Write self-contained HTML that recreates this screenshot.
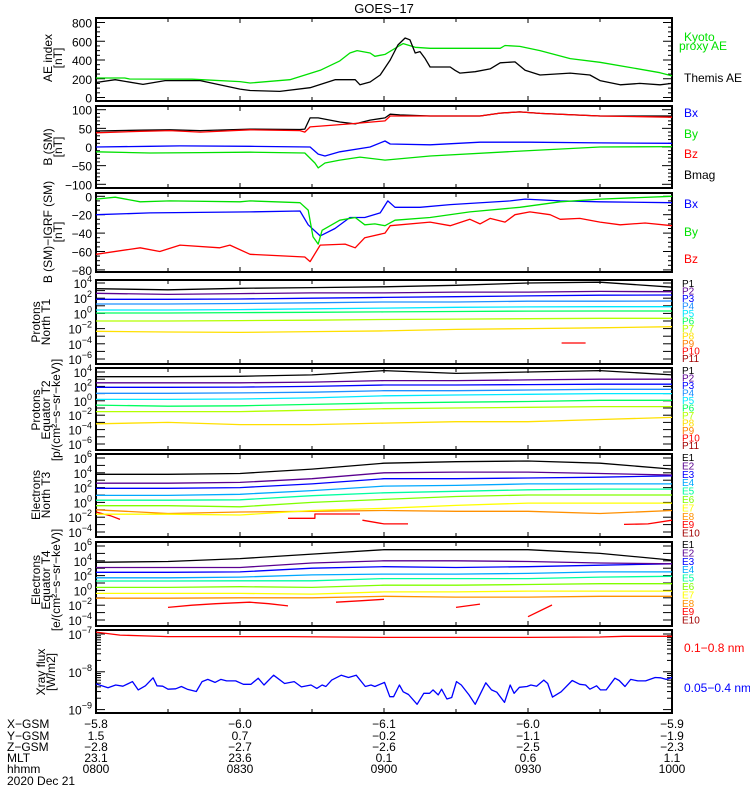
<!DOCTYPE html>
<html><head><meta charset="utf-8">
<style>
html,body{margin:0;padding:0;background:#fff;}
svg{display:block;font-family:"Liberation Sans",sans-serif;}
</style></head>
<body>
<svg id="chart" width="750" height="800" viewBox="0 0 750 800" xmlns="http://www.w3.org/2000/svg">
<text x="384" y="13" text-anchor="middle" font-size="13">GOES−17</text>
</svg>
<script>
// ---------- DATA (time in minutes since 08:00) ----------
const tickTimes = [0,30,60,90,120];
const xGsm = ["−5.8","−6.0","−6.1","−6.0","−5.9"];
const yGsm = ["1.5","0.7","−0.2","−1.1","−1.9"];
const zGsm = ["−2.8","−2.7","−2.6","−2.5","−2.3"];
const mlt = ["23.1","23.6","0.1","0.6","1.1"];
const hhmm = ["0800","0830","0900","0930","1000"];

const kyotoT = [0,6,7,20,30,32.1,40.4,46.7,50.8,52.9,54.4,57.1,58.1,60.2,63.3,64,66.5,69.6,84.2,85.2,88.3,92.5,98.8,105,111.3,117.5,120];
const kyotoV = [208,208,197,195,170,155,190,290,390,475,500,475,440,460,555,575,535,525,525,555,545,500,415,375,320,265,230];
const themisT = [0,4,9.8,14.4,21.7,30,32.1,38.3,44.6,49.8,54,55,57.1,59.2,61.3,62.9,64.4,65.4,66.5,67.5,68.5,69.6,73.8,74.8,75.8,79,82.1,84.2,87.3,89.4,92.5,98.8,102.9,105,109.2,113.3,117.5,120];
const themisV = [160,190,140,180,180,90,75,65,105,190,190,135,165,240,400,560,635,615,475,490,420,325,325,290,260,275,305,370,380,290,240,260,240,180,135,150,135,150];

const bmagT = [0,9.2,15.4,21.7,32.1,42.5,43.5,44.6,46.3,50.8,54,57.1,60.2,61.3,63.3,69.6,80,84.2,88.3,92.5,105,120];
const bmagV = [43,45,46,44,48,47,48,78,78,67,62,72,78,88,86,83,83,91,94,90,83,83];
const bzT = [0,9.2,15.4,21.7,32.1,42.5,43.5,44.6,46.7,52.9,60.2,61.3,69.6,80,84.2,88.3,92.5,105,120];
const bzV = [38,42,44,40,46,44,40,54,56,62,70,83,83,83,91,94,90,83,80];
const bxT = [0,11.25,17.5,32.1,44.6,46.3,47.7,50.8,57.1,60.2,61.3,69.6,80,90.4,105,120];
const bxV = [0,2,3,2,0,-19,-24,-13,0,16,8,6,13,13,11,10];
const byT = [0,11.25,21.7,32.1,43.5,45.6,46.3,47.7,50.8,55,60.2,69.6,88.3,105,120];
const byV = [-13,-16,-15,-14,-16,-43,-56,-43,-35,-27,-35,-24,-11,0,1];

const dByT = [0,4,9.2,15.4,30,32.1,42.5,44.2,45.2,46.3,47.1,50.8,54,56,58.1,60.2,62.3,69.6,77.9,88.3,96.7,105,120];
const dByV = [-3,-1,-6,-5,-6,-5,-7,-15,-44,-52,-37,-26,-23,-31,-30,-32,-26,-23,-17,-12,-6,-3,0];
const dBxT = [0,11.25,32.1,42.5,44.2,46.7,49.8,52.9,56,59.2,60.8,62.3,67.5,73.8,86.3,89.4,96.7,105,120];
const dBxV = [-20,-18,-17,-16,-31,-43,-35,-23,-23,-18,-5,-12,-12,-9,-5,-3,-5,-6,-7];
const dBzT = [0,9.2,13.3,17.5,25.8,27.9,32.1,43.5,44.6,46.7,51.9,54,56,60.2,61.3,69.6,73.8,77.9,80,82.1,85.2,87.3,90.4,94.6,96.7,100.8,105,109.2,114.4,120];
const dBzV = [-63,-56,-60,-53,-56,-53,-63,-66,-71,-53,-52,-56,-45,-40,-32,-28,-32,-25,-30,-24,-28,-20,-17,-20,-25,-24,-28,-31,-29,-32];

const chanT = [0,15,30,45,60,75,90,105,120];
// Protons North T1 (log10 flux)
const pnP1 = [3.25,3.1,3.3,3.4,3.5,3.7,4.0,4.1,3.45];
const pnP2 = [2.64,2.5,2.6,2.7,2.7,2.8,2.8,2.9,2.86];
const pnP3 = [1.86,1.86,1.9,2.0,2.1,2.2,2.3,2.4,2.42];
const pnP4 = [1.24,1.24,1.3,1.4,1.5,1.5,1.6,1.6,1.63];
const pnP5 = [0.45,0.45,0.5,0.6,0.7,0.8,0.85,0.88,0.88];
const pnP6 = [0.05,0.05,0.1,0.15,0.2,0.25,0.3,0.32,0.32];
const pnP7 = [-1.0,-1.0,-0.95,-0.9,-0.8,-0.75,-0.7,-0.65,-0.64];
const pnP8 = [-2.35,-2.45,-2.5,-2.4,-2.3,-2.1,-2.0,-1.9,-1.75];
const pnP10T = [97,102];
const pnP10V = [-3.9,-3.9];
// Protons Equator T2
const peP1 = [3.35,3.35,3.4,3.6,4.2,3.8,4.0,4.2,3.6];
const peP2 = [2.5,2.5,2.5,2.6,2.8,2.8,2.9,3.0,3.0];
const peP3 = [1.87,1.87,1.9,2.0,2.2,2.2,2.25,2.3,2.3];
const peP4 = [1.04,1.04,1.1,1.2,1.4,1.4,1.5,1.6,1.6];
const peP5 = [0.2,0.2,0.25,0.4,0.7,0.8,0.9,1.0,1.0];
const peP6 = [-0.6,-0.75,-0.7,-0.5,-0.3,-0.2,-0.1,0.07,0.07];
const peP7 = [-1.5,-1.5,-1.5,-1.3,-1.1,-1.0,-0.9,-0.8,-0.8];
const peP8 = [-3.2,-3.0,-3.3,-3.3,-3.1,-2.9,-2.9,-2.6,-2.3];
// Electrons North T3
const enE1 = [3.8,3.8,3.9,4.5,5.3,5.5,5.6,5.3,4.5];
const enE2 = [2.6,2.6,2.7,3.2,4.0,4.1,4.1,3.9,3.7];
const enE3 = [1.9,1.9,2.0,2.5,3.2,3.2,3.3,3.4,3.6];
const enE4 = [0.95,0.95,1.1,1.6,2.2,2.3,2.5,2.5,2.5];
const enE5 = [0.3,0.3,0.35,0.9,1.3,1.5,1.7,1.8,1.8];
const enE6 = [-0.45,-0.45,-0.6,0.0,0.4,0.8,1.0,1.0,1.0];
const enE7 = [-1.6,-1.6,-1.7,-1.1,-0.8,-0.4,-0.1,-0.1,-0.1];
const enE8 = [-1.0,-1.5,-1.3,-1.2,-1.1,-1.2,-1.2,-1.5,-1.1];
const enE9T = [0,3,5,NaN,40,45.6,45.6,55,NaN,55.5,60,65,NaN,110,115,120];
const enE9V = [-1.3,-1.8,-2.3,NaN,-2.15,-2.15,-1.57,-1.57,NaN,-2.4,-2.9,-2.9,NaN,-2.97,-2.9,-2.4];
// Electrons Equator T4
const eeE1 = [3.8,3.9,4.3,4.9,5.5,5.5,5.5,5.0,4.1];
const eeE2 = [3.1,3.1,3.1,3.7,4.0,4.0,3.9,3.7,3.6];
const eeE3 = [2.45,2.45,2.5,3.0,3.2,3.1,3.2,3.4,3.6];
const eeE4 = [1.7,1.7,1.8,2.1,2.2,2.2,2.3,2.5,2.5];
const eeE5 = [1.27,1.27,1.3,1.3,1.6,1.6,1.6,1.8,1.9];
const eeE6 = [0.4,0.4,0.5,0.4,0.7,0.7,0.8,0.9,0.9];
const eeE7 = [-0.4,-0.4,-0.4,-0.5,-0.2,-0.2,-0.1,-0.1,-0.1];
const eeE8 = [-1.06,-1.06,-1.0,-1.0,-0.8,-0.9,-0.9,-0.8,-0.8];
const eeE9T = [15,20,25,32,36,40,NaN,50,55,60,NaN,75,80,NaN,90,95];
const eeE9V = [-2.3,-2.0,-1.8,-1.6,-1.8,-2.1,NaN,-1.6,-1.4,-1.2,NaN,-2.3,-1.85,NaN,-3.55,-1.97];
// X-ray (log10 W/m2)
const xrLongT = [0,5,10,15,30,40,60,75,90,105,110,120];
const xrLongV = [-6.95,-7.03,-7.05,-7.07,-7.07,-7.07,-7.09,-7.09,-7.09,-7.08,-7.06,-7.06];
const xrShortT = [0,2.5,4.1,5.6,7.6,8.8,10.3,11.9,12.7,13.9,15,16.6,17.8,19,20.9,22.1,23.3,24.8,26,27.2,29.1,30.7,32.3,33.8,35,37,39.3,41.3,42.8,44.8,46,47.1,47.9,49.1,51.1,52.6,54.2,56.1,57.3,58.1,60.1,61.2,62,63.2,64,65.1,66.9,68.3,69.5,70.2,71.3,72,73.1,74.1,75.1,76.1,77.7,79,81.2,82.4,83.5,85.1,86.3,87.1,88.2,89.8,90.6,91.8,93.3,94.1,95.1,96.9,99.2,100.8,102,102.9,104.3,105.1,106.3,108.1,109,110.2,111.4,112.9,114.5,116.5,117.6,118.8,120];
const xrShortV = [-8.32,-8.42,-8.35,-8.38,-8.26,-8.48,-8.37,-8.16,-8.37,-8.38,-8.46,-8.45,-8.39,-8.46,-8.52,-8.26,-8.20,-8.28,-8.20,-8.24,-8.24,-8.33,-8.33,-8.17,-8.35,-8.09,-8.31,-8.26,-8.40,-8.35,-8.44,-8.35,-8.39,-8.22,-8.09,-8.15,-8.09,-8.39,-8.35,-8.39,-8.28,-8.66,-8.66,-8.35,-8.53,-8.60,-8.86,-8.57,-8.57,-8.48,-8.61,-8.46,-8.72,-8.68,-8.26,-8.35,-8.61,-8.86,-8.29,-8.48,-8.54,-8.81,-8.35,-8.57,-8.41,-8.39,-8.35,-8.38,-8.22,-8.31,-8.67,-8.53,-8.23,-8.33,-8.35,-8.46,-8.37,-8.48,-8.48,-8.17,-8.23,-8.39,-8.20,-8.24,-8.24,-8.15,-8.16,-8.20,-8.15];

// ---------- RENDERING ----------
const NS = "http://www.w3.org/2000/svg";
const svg = document.getElementById('chart');
const X0 = 96, X1 = 672;
function xs(t){ return X0 + (t/120)*(X1-X0); }
function mk(tag, attrs, parent){
  const e = document.createElementNS(NS, tag);
  for (const k in attrs) e.setAttribute(k, attrs[k]);
  (parent||svg).appendChild(e);
  return e;
}
const C = {p1:'#000',p2:'#5a0090',p3:'#0000ff',p4:'#1e90ff',p5:'#00e8ff',p6:'#00ff60',p7:'#b4ff00',p8:'#ffe000',p9:'#ff8000',p10:'#ff0000',p11:'#a00000'};
const EC = ['#000','#5a0090','#0000ff','#00a8ff','#00ffa0','#80ff00','#ffff00','#ff9000','#ff0000','#a00000'];

function panel(name, top, bottom, ymap){
  const g = mk('g', {});
  
  
  const r = mk('rect', {x:X0, y:top, width:X1-X0, height:bottom-top, fill:'none', stroke:'#000', 'stroke-width':2}, g);
  
  
  // x ticks
  for (let t=15; t<120; t+=15){
    const len = (t%30===0)?5:4;
    mk('line',{x1:xs(t),x2:xs(t),y1:top,y2:top+len,stroke:'#000','stroke-width':1},g);
    mk('line',{x1:xs(t),x2:xs(t),y1:bottom,y2:bottom-len,stroke:'#000','stroke-width':1},g);
  }
  return g;
}
function yTick(g, y, len){
  mk('line',{x1:X0,x2:X0+len,y1:y,y2:y,stroke:'#000','stroke-width':1},g);
  mk('line',{x1:X1,x2:X1-len,y1:y,y2:y,stroke:'#000','stroke-width':1},g);
}
function label(g, x, y, txt, color, size, anchor, nm){
  const e = mk('text',{x:x,y:y,fill:color||'#000','font-size':size||12,'text-anchor':anchor||'start'},g);
  e.textContent = txt;
  
  
  return e;
}
function logLabel(g, y, exp){
  const e = mk('text',{x:X0-4,y:y+5,'font-size':12,'text-anchor':'end'},g);
  
  
  const a = mk('tspan',{},e); a.textContent='10';
  const b = mk('tspan',{dy:-6,'font-size':9}, e); b.textContent = String(exp).replace('-','−');
}
function line(g, T, V, ymap, color, nm){
  let d = '', pen = false;
  for (let i=0;i<T.length;i++){
    if (isNaN(T[i])||isNaN(V[i])) { pen=false; continue; }
    d += (pen?'L':'M') + xs(T[i]).toFixed(1) + ' ' + ymap(V[i]).toFixed(1) + ' ';
    pen = true;
  }
  const p = mk('path',{d:d,fill:'none',stroke:color,'stroke-width':1.3,'stroke-linejoin':'round'},g);
  
  
  return p;
}
function ytitle(g, x, y, lines, nm){
  lines.forEach((s,i)=>{
    const e = mk('text',{x:0,y:0,'font-size':12,'text-anchor':'middle',transform:`translate(${x+i*10},${y}) rotate(-90)`},g);
    e.textContent = s;
    
    
  });
}

// Panel 1: AE
{
  const top=18,bot=101; const y=v=>97.5-(v/800)*75;
  const g = panel('ae-panel', top, bot, y);
  for (let v=0; v<=800; v+=50) yTick(g, y(v), v%200===0?9:4);
  [800,600,400,200,0].forEach(v=>label(g,X0-4,y(v)+5,String(v),'#000',12,'end','y-tick-label'));
  line(g, kyotoT, kyotoV, y, '#00e000', 'kyoto-ae-line');
  line(g, themisT, themisV, y, '#000', 'themis-ae-line');
  ytitle(g, 52, 58, ['AE index','[nT]'], 'ae-y-axis-title');
  label(g,684,41,'Kyoto','#00e000',12,'start','legend-kyoto');
  label(g,679,50,'proxy AE','#00e000',12,'start','legend-kyoto-2');
  label(g,684,82,'Themis AE','#000',12,'start','legend-themis');
}
// Panel 2: B SM
{
  const top=106,bot=188; const y=v=>147-v*0.373;
  const g = panel('b-sm-panel', top, bot, y);
  for (let v=-100; v<=100; v+=10) yTick(g, y(v), v%50===0?10:4);
  [100,50,0,-50,-100].forEach(v=>label(g,X0-4,y(v)+5,String(v).replace('-','−'),'#000',12,'end','y-tick-label'));
  line(g, byT, byV, y, '#00e000', 'by-line');
  line(g, bxT, bxV, y, '#0000ff', 'bx-line');
  line(g, bmagT, bmagV, y, '#000', 'bmag-line');
  line(g, bzT, bzV, y, '#ff0000', 'bz-line');
  ytitle(g, 52, 147, ['B (SM)','[nT]'], 'b-y-axis-title');
  label(g,684,117,'Bx','#0000ff',12,'start','legend-bx');
  label(g,684,138,'By','#00e000',12,'start','legend-by');
  label(g,684,158,'Bz','#ff0000',12,'start','legend-bz');
  label(g,684,179,'Bmag','#000',12,'start','legend-bmag');
}
// Panel 3: B - IGRF
{
  const top=193,bot=272; const y=v=>196.3-v*0.92;
  const g = panel('b-igrf-panel', top, bot, y);
  for (let v=-80; v<=0; v+=5) yTick(g, y(v), v%20===0?9:4);
  [0,-20,-40,-60,-80].forEach(v=>label(g,X0-4,y(v)+5,String(v).replace('-','−'),'#000',12,'end','y-tick-label'));
  line(g, dBzT, dBzV, y, '#ff0000', 'dbz-line');
  line(g, dBxT, dBxV, y, '#0000ff', 'dbx-line');
  line(g, dByT, dByV, y, '#00e000', 'dby-line');
  ytitle(g, 52, 232, ['B (SM)−IGRF (SM)','[nT]'], 'b-igrf-y-axis-title');
  label(g,684,208,'Bx','#0000ff',12,'start','legend-bx');
  label(g,684,236,'By','#00e000',12,'start','legend-by');
  label(g,684,263,'Bz','#ff0000',12,'start','legend-bz');
}
function logPanel(name, top, bot, yTop, pxDec, expTop, nDec, series, labels, lblY0, lblStep, titleLines, titleY){
  const y = v => yTop + (expTop - v)*pxDec;
  const g = panel(name, top, bot, y);
  for (let k=0;k<=nDec;k++){ yTick(g, y(expTop-k), 9); if (k%2===0) logLabel(g, y(expTop-k), expTop-k); }
  series.forEach(s=>line(g, s[0], s[1], y, s[2], s[3]));
  labels.forEach((l,i)=>label(g,682,lblY0+i*lblStep,l[0],l[1],10,'start','legend-'+l[0].toLowerCase()));
  ytitle(g, titleLines.length===3?40:40, titleY, titleLines, name+'-y-axis-title');
}
const pLabels = [['P1',C.p1],['P2',C.p2],['P3',C.p3],['P4',C.p4],['P5',C.p5],['P6',C.p6],['P7',C.p7],['P8',C.p8],['P9',C.p9],['P10',C.p10],['P11',C.p11]];
const eLabels = EC.map((c,i)=>['E'+(i+1),c]);
logPanel('protons-north-panel',280,364,283,7.6,4,10,[
  [chanT,pnP8,C.p8,'p8-line'],[chanT,pnP7,C.p7,'p7-line'],[chanT,pnP6,C.p6,'p6-line'],[chanT,pnP5,C.p5,'p5-line'],
  [chanT,pnP4,C.p4,'p4-line'],[chanT,pnP3,C.p3,'p3-line'],[chanT,pnP2,C.p2,'p2-line'],[chanT,pnP1,C.p1,'p1-line'],
  [pnP10T,pnP10V,C.p10,'p10-line']], pLabels, 287, 7.5, ['Protons','North T1'], 322);
logPanel('protons-equator-panel',368,450,372,7.2,4,10,[
  [chanT,peP8,C.p8,'p8-line'],[chanT,peP7,C.p7,'p7-line'],[chanT,peP6,C.p6,'p6-line'],[chanT,peP5,C.p5,'p5-line'],
  [chanT,peP4,C.p4,'p4-line'],[chanT,peP3,C.p3,'p3-line'],[chanT,peP2,C.p2,'p2-line'],[chanT,peP1,C.p1,'p1-line']],
  pLabels, 374, 7.5, ['Protons','Equator T2','[p/(cm²−s−sr−keV)]'], 410);
logPanel('electrons-north-panel',454,537,458,7.4,6,10,[
  [enE9T,enE9V,EC[8],'e9-line'],[chanT,enE8,EC[7],'e8-line'],[chanT,enE7,EC[6],'e7-line'],[chanT,enE6,EC[5],'e6-line'],
  [chanT,enE5,EC[4],'e5-line'],[chanT,enE4,EC[3],'e4-line'],[chanT,enE3,EC[2],'e3-line'],[chanT,enE2,EC[1],'e2-line'],
  [chanT,enE1,EC[0],'e1-line']], eLabels, 461, 8.4, ['Electrons','North T3'], 495);
logPanel('electrons-equator-panel',542,626,546,7.4,6,10,[
  [eeE9T,eeE9V,EC[8],'e9-line'],[chanT,eeE8,EC[7],'e8-line'],[chanT,eeE7,EC[6],'e7-line'],[chanT,eeE6,EC[5],'e6-line'],
  [chanT,eeE5,EC[4],'e5-line'],[chanT,eeE4,EC[3],'e4-line'],[chanT,eeE3,EC[2],'e3-line'],[chanT,eeE2,EC[1],'e2-line'],
  [chanT,eeE1,EC[0],'e1-line']], eLabels, 548, 8.4, ['Electrons','Equator T4','[e/(cm²−s−sr−keV)]'], 580);
// X-ray
{
  const top=630,bot=713; const y=v=>634+(-7-v)*37.8;
  const g = panel('xray-panel', top, bot, y);
  for (let e=-9; e<=-7; e++){ yTick(g, y(e), 9); logLabel(g, y(e), e); }
  for (let e=-9; e<-7; e++) for (let m=2;m<=9;m++) yTick(g, y(e+Math.log10(m)), 5);
  line(g, xrLongT, xrLongV, y, '#ff0000', 'xray-long-line');
  line(g, xrShortT, xrShortV, y, '#0000ff', 'xray-short-line');
  ytitle(g, 45, 672, ['Xray flux','[W/m2]'], 'xray-y-axis-title');
  label(g,684,652,'0.1−0.8 nm','#ff0000',12,'start','legend-xray-long');
  label(g,684,692,'0.05−0.4 nm','#0000ff',12,'start','legend-xray-short');
}
// Bottom ephemeris table
{
  const g = mk('g',{});
  
  
  const rows = [['X-GSM',xGsm,728],['Y-GSM',yGsm,740],['Z-GSM',zGsm,751],['MLT',mlt,762],['hhmm',hhmm,773]];
  rows.forEach(r=>{
    label(g,7,r[2],r[0].replace(/-/g,'−'),'#000',12,'start','row-label-'+r[0].toLowerCase());
    r[1].forEach((v,i)=>label(g,xs(tickTimes[i]),r[2],v,'#000',12,'middle','row-value'));
  });
  label(g,7,785,'2020 Dec 21','#000',12,'start','date-label');
}
</script>
</body></html>
